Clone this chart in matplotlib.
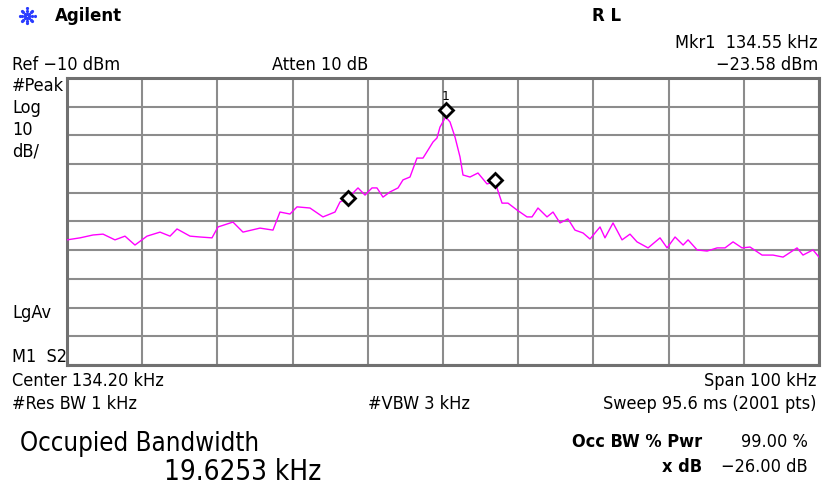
import numpy as np
import matplotlib
matplotlib.use("Agg")
from matplotlib import pyplot as plt
from matplotlib import transforms

# trace (kHz, dBm)
freq = [84.20, 85.93, 87.66, 88.99, 90.58, 91.91, 93.24, 94.84, 96.57, 97.90,
        98.83, 100.56, 101.89, 103.48, 104.28, 106.27, 107.60, 109.86, 111.59, 112.52,
        113.85, 114.79, 116.51, 118.24, 119.84, 120.50, 121.57, 122.90, 123.83, 124.76,
        125.42, 126.22, 127.15, 128.22, 128.88, 129.81, 130.74, 131.54, 132.21, 132.87,
        133.40, 133.80, 134.55, 135.13, 135.80, 136.46, 136.86, 137.79, 138.85, 139.39,
        140.05, 141.11, 142.05, 142.84, 144.04, 145.37, 146.04, 146.83, 148.03, 148.83,
        149.76, 150.82, 151.75, 152.82, 153.75, 155.08, 155.74, 156.81, 158.01, 159.07,
        160.00, 161.47, 163.06, 164.00, 165.06, 166.13, 166.79, 167.99, 169.32, 170.65,
        171.70, 172.77, 173.97, 175.03, 176.63, 178.09, 179.42, 181.28, 182.07, 183.40,
        184.20]
level = [-66.4, -65.7, -64.7, -64.4, -66.4, -65.1, -68.2, -65.1, -63.7, -65.1,
         -62.6, -65.1, -65.4, -65.7, -61.9, -60.2, -63.7, -62.3, -63.0, -56.7,
         -57.4, -54.9, -55.3, -58.4, -56.7, -53.2, -51.8, -48.3, -50.8, -48.3,
         -48.3, -51.5, -49.7, -48.3, -45.5, -44.5, -37.9, -37.9, -35.1, -32.3,
         -30.9, -27.1, -23.58, -25.3, -30.6, -37.5, -43.8, -44.5, -43.1, -44.8,
         -46.9, -46.2, -53.6, -53.6, -56.0, -58.4, -58.4, -55.3, -58.4, -56.7,
         -60.5, -59.1, -63.0, -64.0, -66.1, -61.9, -65.7, -60.5, -66.4, -64.4,
         -67.1, -69.2, -65.7, -69.2, -65.4, -68.2, -66.4, -69.9, -70.3, -69.2,
         -69.2, -67.1, -69.2, -68.9, -71.7, -71.7, -72.4, -69.2, -71.7, -69.9,
         -72.4]

center_khz = 134.20
span_khz = 100.0
ref_dbm = -10
db_per_div = 10
mkr1 = (134.55, -23.58)
obw_markers_f = [121.57, 141.11]
obw_markers_l = [-51.8, -45.6]

W, H = 824, 490
fig = plt.figure(figsize=(W / 100, H / 100), dpi=100)
fig.patch.set_facecolor("white")

FONT = ["DejaVu Sans"]


def px(x, y, s, size=13, ha="left", **kw):
    kw.setdefault("fontstretch", "condensed")
    fig.text(x / W, 1 - y / H, s, ha=ha, va="center", fontsize=size,
             family=FONT, **kw)


# graticule
ax = fig.add_axes([67 / W, (H - 365) / H, 752 / W, 287 / H])
f0 = center_khz - span_khz / 2
ax.set_xlim(f0, f0 + span_khz)
ax.set_ylim(ref_dbm - 10 * db_per_div, ref_dbm)
ax.set_xticks(np.linspace(f0, f0 + span_khz, 11))
ax.set_yticks(np.arange(ref_dbm - 10 * db_per_div, ref_dbm + 1, db_per_div))
ax.grid(True, color="#8c8c8c", lw=1.5)
ax.tick_params(left=False, bottom=False, labelleft=False, labelbottom=False)
for sp in ax.spines.values():
    sp.set_color("#707070")
    sp.set_linewidth(2.2)

ax.plot(freq, level, color="#ff00ff", lw=1.0, zorder=3)
ax.plot(obw_markers_f, obw_markers_l, ls="none", marker="D", ms=7,
        mfc="white", mec="black", mew=2, zorder=4)
shift = transforms.offset_copy(ax.transData, fig=fig, x=0, y=5, units="points")
ax.plot([mkr1[0]], [mkr1[1]], ls="none", marker="D", ms=7,
        mfc="white", mec="black", mew=2, zorder=4, transform=shift)
ax.annotate("1", mkr1, xytext=(0, 15), textcoords="offset points",
            ha="center", va="center", fontsize=9, family=FONT)

# header
logo = fig.add_axes([18 / W, 1 - 25 / H, 18 / W, 18 / H])
logo.axis("off")
for a in np.linspace(0, np.pi, 4, endpoint=False):
    r = np.array([-1, -0.66, -0.33, 0.33, 0.66, 1])
    logo.plot(r * np.cos(a), r * np.sin(a), ls="none", marker="o", ms=1.3,
              color="#2a3cff")
logo.set_xlim(-1.2, 1.2)
logo.set_ylim(-1.2, 1.2)
px(55, 16, "Agilent", size=12, weight="bold", fontstretch="normal")
px(592, 16, "R L", size=12, weight="bold", fontstretch="normal")
px(818, 43, "Mkr1  134.55 kHz", ha="right")
px(818, 65, "\u221223.58 dBm", ha="right")
px(12, 65, "Ref \u221210 dBm")
px(272, 65, "Atten 10 dB")

# left annotations
px(12, 86, "#Peak")
px(12, 108, "Log")
px(12, 130, "10")
px(12, 152, "dB/")
px(12, 313, "LgAv")
px(12, 357, "M1  S2")

# footer
px(12, 381, "Center 134.20 kHz")
px(816, 381, "Span 100 kHz", ha="right")
px(12, 404, "#Res BW 1 kHz")
px(368, 404, "#VBW 3 kHz")
px(816, 404, "Sweep 95.6 ms (2001 pts)", ha="right")
px(20, 444, "Occupied Bandwidth", size=18.5)
px(164, 472, "19.6253 kHz", size=20)
px(702, 442, "Occ BW % Pwr", ha="right", weight="bold")
px(808, 442, "99.00 %", ha="right")
px(702, 467, "x dB", ha="right", weight="bold")
px(808, 467, "\u221226.00 dB", ha="right")

fig.savefig("out.png", dpi=100, facecolor="white")
